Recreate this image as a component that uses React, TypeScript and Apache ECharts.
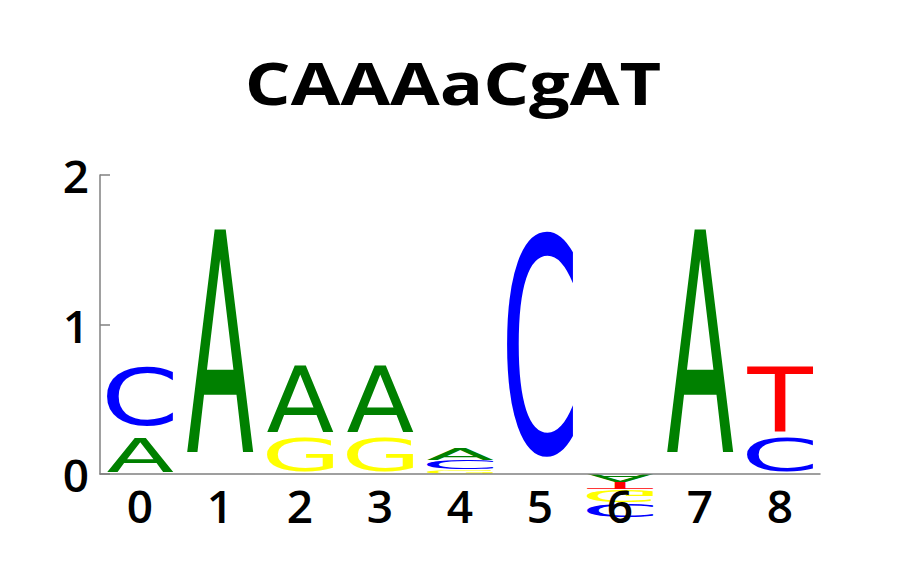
import React, { useEffect, useRef } from 'react';
import * as echarts from 'echarts';

// sequence logo: one entry per stacked letter
const positions = ['0', '1', '2', '3', '4', '5', '6', '7', '8'];
const logoPos = [0, 0, 1, 2, 2, 3, 3, 4, 4, 4, 5, 6, 6, 6, 6, 7, 8, 8];
const logoChar = ['A', 'C', 'A', 'G', 'A', 'G', 'A', 'G', 'C', 'A', 'C', 'A', 'T', 'G', 'C', 'A', 'C', 'T'];
const logoLow = [0.015, 0.32, 0.15, 0.015, 0.28, 0.015, 0.28, 0, 0.03, 0.095, 0.127, -0.05, -0.1, -0.185, -0.29, 0.15, 0.015, 0.28];
const logoHigh = [0.24, 0.72, 1.64, 0.24, 0.72, 0.24, 0.72, 0.03, 0.09, 0.175, 1.64, 0, -0.055, -0.107, -0.2, 1.64, 0.24, 0.72];
const baseColors: Record<string, string> = {
  A: '#008000',
  C: '#0000ff',
  G: '#ffff00',
  T: '#ff0000',
};
const motif = 'CAAAaCgAT';

const LOGO_SIZE = 100;
const LOGO_FAMILY = 'DejaVu Sans';

type Glyph = { l: number; r: number; a: number; d: number };

// where the svg "central" baseline sits relative to the alphabetic one
const centralShift = () => {
  try {
    const ns = 'http://www.w3.org/2000/svg';
    const svg = document.createElementNS(ns, 'svg');
    svg.setAttribute('width', '400');
    svg.setAttribute('height', '400');
    svg.setAttribute('style', 'position:absolute;left:-2000px;top:0');
    const mk = (baseline: string) => {
      const t = document.createElementNS(ns, 'text');
      t.setAttribute('x', '0');
      t.setAttribute('y', '200');
      t.setAttribute('dominant-baseline', baseline);
      t.setAttribute('style', `font: ${LOGO_SIZE}px "${LOGO_FAMILY}"`);
      t.textContent = 'A';
      svg.appendChild(t);
      return t;
    };
    const c = mk('central');
    const a = mk('alphabetic');
    document.body.appendChild(svg);
    const shift = c.getBBox().y - a.getBBox().y;
    svg.remove();
    if (isFinite(shift) && shift !== 0) return shift;
  } catch (e) {
    // ignore
  }
  return LOGO_SIZE * 0.26;
};

// ink box of each letter, relative to a centred / central-baseline anchor
const measureGlyphs = () => {
  const ctx = document.createElement('canvas').getContext('2d')!;
  ctx.font = `${LOGO_SIZE}px "${LOGO_FAMILY}"`;
  ctx.textAlign = 'center';
  ctx.textBaseline = 'alphabetic';
  const shift = centralShift();
  const out: Record<string, Glyph> = {};
  Object.keys(baseColors).forEach((ch) => {
    const m = ctx.measureText(ch);
    out[ch] = {
      l: m.actualBoundingBoxLeft,
      r: m.actualBoundingBoxRight,
      a: m.actualBoundingBoxAscent - shift,
      d: m.actualBoundingBoxDescent + shift,
    };
  });
  return out;
};

const App: React.FC = () => {
  const chartRef = useRef<HTMLDivElement>(null);

  useEffect(() => {
    if (!chartRef.current) return;
    const chart = echarts.init(chartRef.current, undefined, { renderer: 'svg' });
    const glyphs = measureGlyphs();

    const data = logoPos.map((p, i) => [p, logoLow[i], logoHigh[i], i]);

    chart.setOption({
      animation: false,
      graphic: [
        {
          type: 'text',
          x: 453,
          y: 81.5,
          scaleX: 1.2,
          style: {
            text: motif,
            align: 'center',
            verticalAlign: 'middle',
            fontSize: 60,
            fontWeight: 'bold',
            fontFamily: 'Open Sans',
            fill: '#000',
          },
        },
      ],
      grid: { left: 100, right: 100, top: 175, bottom: 101, containLabel: false },
      xAxis: {
        type: 'category',
        data: positions,
        z: 10,
        axisLine: { lineStyle: { color: '#808080', width: 1.5 } },
        axisTick: { show: false },
        axisLabel: { fontSize: 46, fontWeight: 600, fontFamily: 'Open Sans', color: '#000', margin: 8 },
        splitLine: { show: false },
      },
      yAxis: {
        type: 'value',
        min: 0,
        max: 2,
        interval: 1,
        axisLine: { show: true, lineStyle: { color: '#808080', width: 1.5 } },
        axisTick: { show: true, inside: true, length: 10, lineStyle: { color: '#808080', width: 1.5 } },
        axisLabel: { fontSize: 46, fontWeight: 600, fontFamily: 'Open Sans', color: '#000', margin: 11 },
        splitLine: { show: false },
      },
      series: [
        {
          type: 'custom',
          clip: false,
          data,
          encode: { x: 0, y: [1, 2] },
          renderItem: (params: any, api: any) => {
            const pos = api.value(0);
            const low = api.value(1);
            const high = api.value(2);
            const ch = logoChar[api.value(3)];
            const g = glyphs[ch];
            const band = api.size([1, 0])[0];
            const cx = api.coord([pos, 0])[0];
            const yTop = api.coord([pos, high])[1];
            const yBot = api.coord([pos, low])[1];
            const w = band * 0.84;
            const h = yBot - yTop;
            const sx = w / (g.l + g.r);
            const sy = h / (g.a + g.d);
            const flip = high <= 0;
            return {
              type: 'text',
              x: cx - w / 2 + g.l * sx,
              y: flip ? yBot - g.a * sy : yTop + g.a * sy,
              scaleX: sx,
              scaleY: flip ? -sy : sy,
              style: {
                text: ch,
                fontSize: LOGO_SIZE,
                fontFamily: LOGO_FAMILY,
                fill: baseColors[ch],
                align: 'center',
                verticalAlign: 'middle',
              },
            };
          },
        },
      ],
    });

    return () => {
      chart.dispose();
    };
  }, []);

  return (
    <div
      ref={chartRef}
      style={{ position: 'fixed', left: 0, top: 0, width: 920, height: 575, background: '#fff' }}
    />
  );
};

export default App;
